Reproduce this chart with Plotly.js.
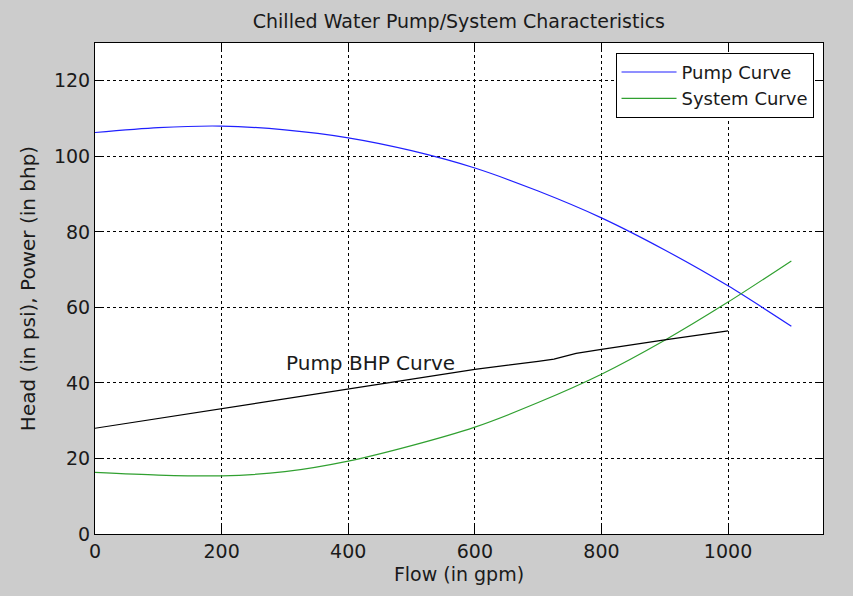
<!DOCTYPE html>
<html>
<head>
<meta charset="utf-8">
<script src="https://cdn.plot.ly/plotly-3.0.1.min.js"></script>
<style>
  html, body { margin: 0; padding: 0; background: #cccccc; }
  #chart { width: 853px; height: 596px; }
</style>
</head>
<body>
<div id="chart"></div>
<script>
// Flow values (gpm) for pump and system curves
const flow = [0, 100, 200, 300, 400, 500, 600, 700, 800, 900, 1000, 1100];
// Pump head (psi)
const pumpHead = [106.3, 107.6, 108.0, 107.0, 104.9, 101.5, 96.9, 90.8, 83.7, 75.2, 65.7, 55.0];
// System head (psi)
const systemHead = [16.3, 15.6, 15.4, 16.5, 19.3, 23.4, 28.3, 34.8, 42.3, 51.3, 61.4, 72.3];
// Pump BHP curve
const bhpFlow = [0, 100, 200, 300, 400, 500, 600, 700, 725, 760, 800, 900, 1000];
const bhpPower = [28.0, 30.6, 33.1, 35.8, 38.4, 41.0, 43.6, 45.7, 46.3, 47.8, 48.9, 51.4, 53.8];

const seriesNames = ["Pump Curve", "System Curve"];
const annotationText = "Pump BHP Curve";
const annotationPos = [298, 45.3];

const FONT = "DejaVu Sans, Arial, sans-serif";
const TXT = "#1a1a1a";

const traces = [
  { x: flow, y: pumpHead, name: seriesNames[0], mode: "lines",
    line: { color: "#2020ff", width: 1.2, shape: "spline", smoothing: 0.8 } },
  { x: flow, y: systemHead, name: seriesNames[1], mode: "lines",
    line: { color: "#30a030", width: 1.2, shape: "spline", smoothing: 0.8 } },
  { x: bhpFlow, y: bhpPower, name: "Pump BHP", mode: "lines", showlegend: false,
    line: { color: "#000000", width: 1.2 } }
];

const axisCommon = {
  showline: true, linecolor: "#000", linewidth: 1, mirror: "ticks",
  ticks: "inside", ticklen: 8, tickcolor: "#000", tickwidth: 1,
  showgrid: true, gridcolor: "#000", gridwidth: 1, griddash: "3px,3px",
  zeroline: false,
  tickfont: { family: FONT, size: 19, color: TXT }
};

const layout = {
  width: 853, height: 596,
  paper_bgcolor: "#cccccc", plot_bgcolor: "#ffffff",
  margin: { l: 95, r: 29.5, t: 43, b: 61.5 },
  title: { text: "Chilled Water Pump/System Characteristics",
    font: { family: FONT, size: 19, color: TXT },
    x: 0.538, xanchor: "center", y: 0.965, yanchor: "middle" },
  xaxis: Object.assign({}, axisCommon, {
    range: [0, 1150], tickvals: [0, 200, 400, 600, 800, 1000],
    title: { text: "Flow (in gpm)", font: { family: FONT, size: 19, color: TXT }, standoff: 6 }
  }),
  yaxis: Object.assign({}, axisCommon, {
    range: [0, 130], tickvals: [0, 20, 40, 60, 80, 100, 120],
    title: { text: "Head (in psi), Power (in bhp)", font: { family: FONT, size: 20, color: TXT }, standoff: 12 }
  }),
  legend: {
    x: 0.987, xanchor: "right", y: 0.98, yanchor: "top",
    bgcolor: "#ffffff", bordercolor: "#000", borderwidth: 1,
    font: { family: FONT, size: 18, color: TXT },
    itemwidth: 55, tracegroupgap: 0
  },
  annotations: [{
    x: annotationPos[0], y: annotationPos[1], xref: "x", yref: "y",
    text: annotationText, showarrow: false, xanchor: "left", yanchor: "middle",
    font: { family: FONT, size: 20, color: TXT }
  }],
  showlegend: true
};

Plotly.newPlot("chart", traces, layout, { displayModeBar: false, staticPlot: true });
</script>
</body>
</html>
